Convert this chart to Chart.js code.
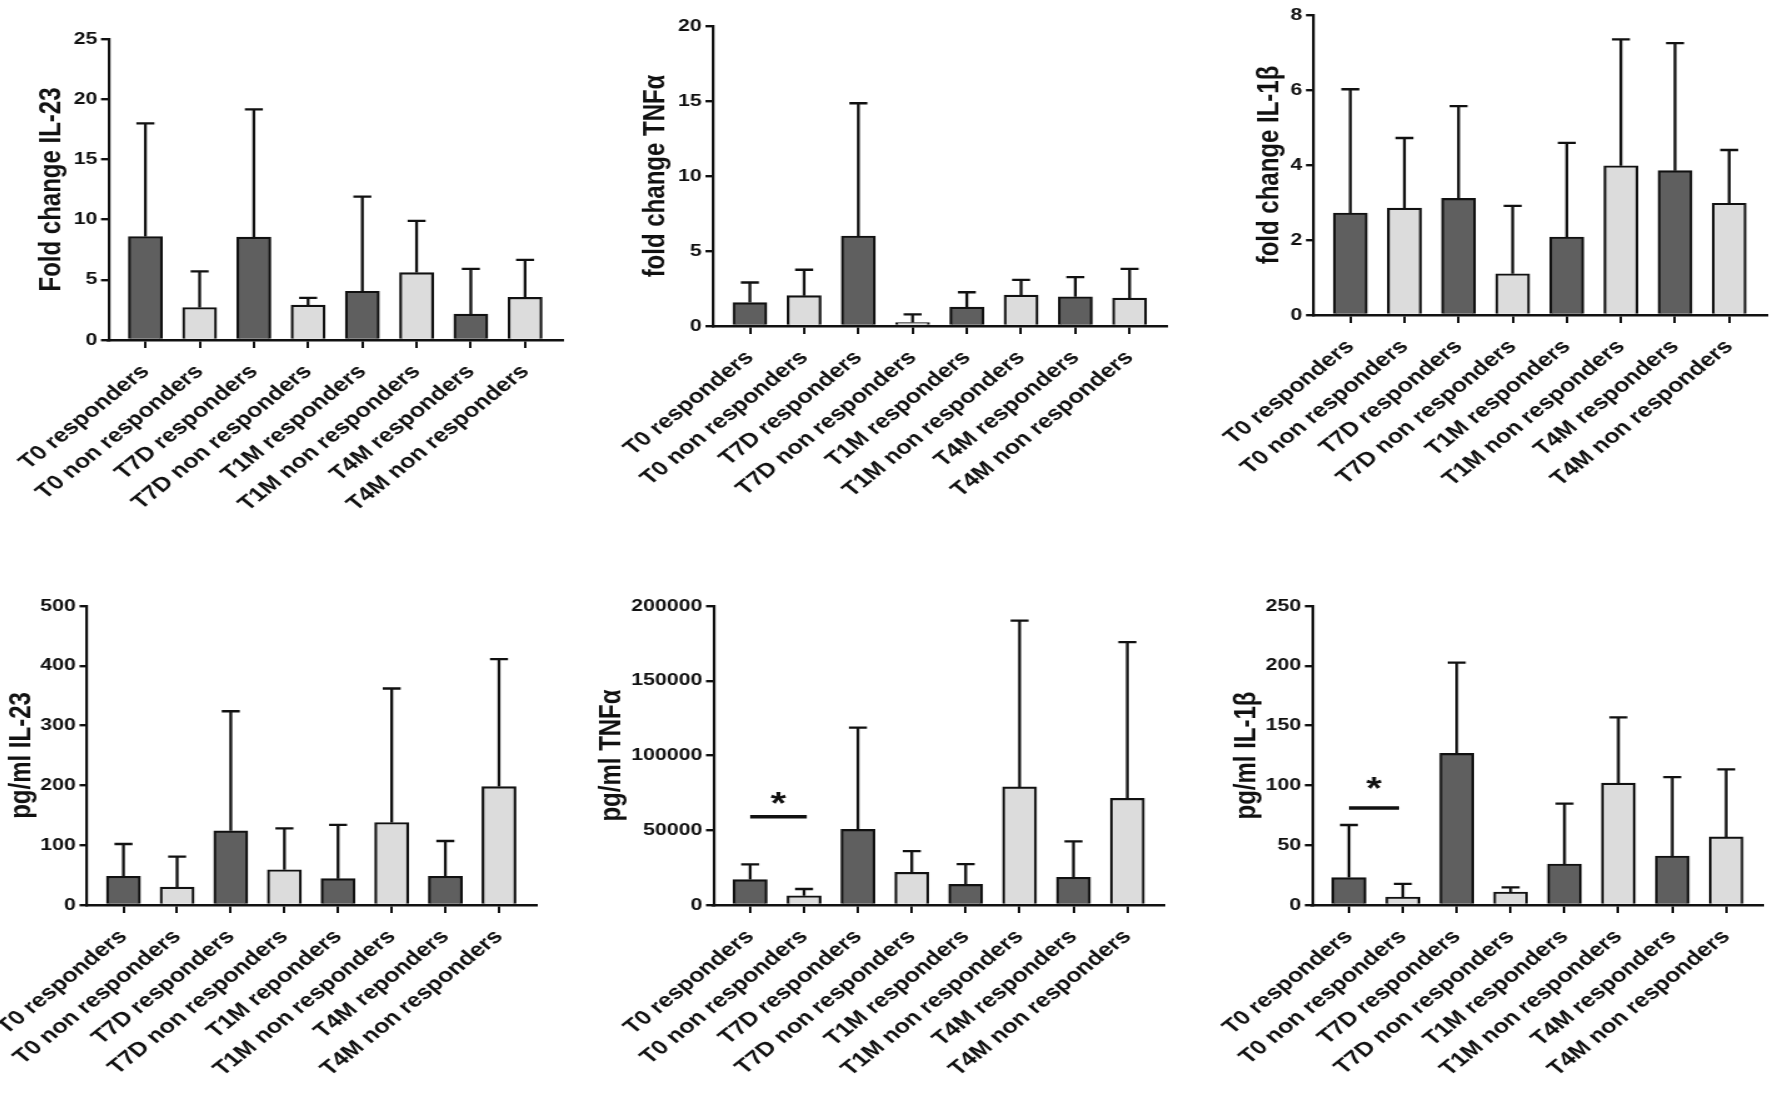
<!DOCTYPE html>
<html>
<head>
<meta charset="utf-8">
<script src="https://cdn.jsdelivr.net/npm/chart.js@4.4.1/dist/chart.umd.min.js"></script>
<style>
  html, body { margin: 0; padding: 0; background: #fff; width: 1772px; height: 1094px; overflow: hidden; }
  body { position: relative; }
  canvas { position: absolute; transform-origin: 0 0; }
</style>
</head>
<body>
<canvas id="c1"></canvas>
<canvas id="c2"></canvas>
<canvas id="c3"></canvas>
<canvas id="c4"></canvas>
<canvas id="c5"></canvas>
<canvas id="c6"></canvas>
<script>
// group labels (the pg/ml IL-23 panel spells "reponders" in the original)
const groups = ['T0 responders', 'T0 non responders', 'T7D responders', 'T7D non responders',
                'T1M responders', 'T1M non responders', 'T4M responders', 'T4M non responders'];
const groupsIl23Pg = ['T0 responders', 'T0 non responders', 'T7D responders', 'T7D non responders',
                      'T1M reponders', 'T1M non responders', 'T4M reponders', 'T4M non responders'];

// means and upper SD
const il23Fold     = [8.6, 2.7, 8.55, 2.9, 4.05, 5.6, 2.15, 3.55];
const il23FoldSd   = [9.4, 3.0, 10.6, 0.6, 7.85, 4.3, 3.75, 3.1];
const tnfFold      = [1.56, 2.02, 6.0, 0.23, 1.26, 2.06, 1.95, 1.86];
const tnfFoldSd    = [1.34, 1.73, 8.85, 0.55, 0.99, 1.01, 1.31, 1.95];
const il1bFold     = [2.72, 2.85, 3.11, 1.10, 2.08, 3.98, 3.85, 2.98];
const il1bFoldSd   = [3.30, 1.87, 2.46, 1.81, 2.51, 3.37, 3.40, 1.42];
const il23Pg       = [48, 30, 124, 59, 44, 138, 48, 198];
const il23PgSd     = [54, 51, 200, 69, 90, 224, 59, 213];
const tnfPg        = [17000, 6200, 50600, 21900, 13800, 79000, 18500, 71400];
const tnfPgSd      = [10200, 4500, 68000, 14200, 13600, 111200, 24100, 104500];
const il1bPg       = [22.9, 6.7, 126.8, 10.9, 34.3, 102, 41, 56.9];
const il1bPgSd     = [44, 10.9, 75.8, 3.9, 50.4, 54.9, 66, 56.5];

// significance between T0 responders and T0 non responders
const tnfPgSig  = { from: 0, to: 1.05, line: 59000, star: 73600 };
const il1bPgSig = { from: 0, to: 0.93, line: 81, star: 104.5 };

const dark = '#5f5f5f';
const light = '#dcdcdc';
const ink = '#111';
const family = '"Liberation Sans", Arial, sans-serif';

// the original figure is stretched horizontally; draw narrow and widen with CSS
const sx = 1.25;

const errorBars = {
  id: 'errorBars',
  afterDatasetsDraw(chart, args, opts) {
    const ctx = chart.ctx;
    const y = chart.scales.y, x = chart.scales.x;
    const data = chart.data.datasets[0].data;
    ctx.save();
    ctx.strokeStyle = ink;
    ctx.lineWidth = 2.3;
    chart.getDatasetMeta(0).data.forEach((bar, i) => {
      const v = data[i].y;
      const base = y.getPixelForValue(v);
      const top = y.getPixelForValue(v + opts.sd[i]);
      ctx.beginPath();
      ctx.moveTo(bar.x, base);
      ctx.lineTo(bar.x, top);
      ctx.moveTo(bar.x - 7.2, top);
      ctx.lineTo(bar.x + 7.2, top);
      ctx.stroke();
    });
    if (opts.sig) {
      const s = opts.sig;
      const ly = y.getPixelForValue(s.line);
      ctx.lineWidth = 3.5;
      ctx.beginPath();
      ctx.moveTo(x.getPixelForValue(s.from), ly);
      ctx.lineTo(x.getPixelForValue(s.to), ly);
      ctx.stroke();
      const size = 32;
      ctx.fillStyle = ink;
      ctx.font = 'bold ' + size + 'px ' + family;
      ctx.textAlign = 'center';
      ctx.textBaseline = 'alphabetic';
      ctx.fillText('*', x.getPixelForValue((s.from + s.to) / 2), y.getPixelForValue(s.star) + size * 0.58);
    }
    ctx.restore();
  }
};

// page positions of each plot area; gap = distance from y-axis title centre to the axis
const panels = [
  { id: 'c1', labels: groups, mean: il23Fold, sd: il23FoldSd, title: 'Fold change IL-23', max: 25, step: 5,
    left: 108, top: 39, right: 562, bottom: 340, gap: 56.5 },
  { id: 'c2', labels: groups, mean: tnfFold, sd: tnfFoldSd, title: 'fold change TNF\u03b1', max: 20, step: 5,
    left: 713, top: 26, right: 1167, bottom: 326, gap: 57 },
  { id: 'c3', labels: groups, mean: il1bFold, sd: il1bFoldSd, title: 'fold change IL-1\u03b2', max: 8, step: 2,
    left: 1313, top: 15, right: 1766, bottom: 315, gap: 43.5 },
  { id: 'c4', labels: groupsIl23Pg, mean: il23Pg, sd: il23PgSd, title: 'pg/ml IL-23', max: 500, step: 100,
    left: 87, top: 606, right: 536, bottom: 905, gap: 65 },
  { id: 'c5', labels: groups, mean: tnfPg, sd: tnfPgSd, sig: tnfPgSig, title: 'pg/ml TNF\u03b1', max: 200000, step: 50000,
    left: 713, top: 606, right: 1164, bottom: 905, gap: 101.5 },
  { id: 'c6', labels: groups, mean: il1bPg, sd: il1bPgSd, sig: il1bPgSig, title: 'pg/ml IL-1\u03b2', max: 250, step: 50,
    left: 1312, top: 606, right: 1763, bottom: 905, gap: 65.3 }
];

const padTop = 14, padRight = 10, padLeft = 40, xh = 188;
const titleSize = 24;

panels.forEach(p => {
  const yw = p.gap / sx + titleSize * 1.2 / 2;
  const plotW = (p.right - p.left) / sx;
  const pl = padLeft;
  const canvas = document.getElementById(p.id);
  const w = Math.round(pl + yw + plotW + padRight);
  const h = padTop + (p.bottom - p.top) + xh;
  canvas.width = w;
  canvas.height = h;
  canvas.style.width = w + 'px';
  canvas.style.height = h + 'px';
  canvas.style.left = (p.left - (yw + pl) * sx) + 'px';
  canvas.style.top = (p.top - padTop) + 'px';
  canvas.style.transform = 'scaleX(' + sx + ')';

  new Chart(canvas, {
    type: 'bar',
    data: {
      datasets: [{
        data: p.mean.map((v, i) => ({ x: i, y: v })),
        backgroundColor: p.mean.map((v, i) => i % 2 ? light : dark),
        borderColor: ink,
        borderWidth: 2.2,
        barThickness: 27.2
      }]
    },
    options: {
      responsive: false,
      animation: false,
      events: [],
      layout: { padding: { left: pl, top: padTop, right: w - pl - yw - plotW, bottom: 0 } },
      plugins: {
        legend: { display: false },
        tooltip: { enabled: false },
        errorBars: { sd: p.sd, sig: p.sig || null }
      },
      scales: {
        x: {
          type: 'linear',
          offset: false,
          min: -0.68,
          max: 7.69,
          afterBuildTicks: s => { s.ticks = p.labels.map((l, i) => ({ value: i })); },
          afterFit: s => { s.height = xh; s.paddingLeft = 0; s.paddingRight = 0; },
          ticks: {
            autoSkip: false,
            minRotation: 45,
            maxRotation: 45,
            padding: 12,
            color: ink,
            font: { family: family, size: 20, weight: 'bold' },
            callback: v => p.labels[v]
          },
          grid: { offset: false, drawOnChartArea: false, color: ink, lineWidth: 2, tickLength: 8 },
          border: { color: ink, width: 2.4 }
        },
        y: {
          min: 0,
          max: p.max,
          afterFit: s => { s.width = yw; s.paddingTop = 0; s.paddingBottom = 0; },
          ticks: {
            stepSize: p.step,
            padding: 3,
            color: ink,
            font: { family: family, size: 17, weight: 'bold' },
            callback: v => String(v)
          },
          grid: { drawOnChartArea: false, color: ink, lineWidth: 2.4, tickLength: 6 },
          border: { color: ink, width: 2.2 },
          title: {
            display: true,
            text: p.title,
            color: ink,
            padding: 0,
            font: { family: family, size: titleSize, weight: 'bold', lineHeight: 1.2 }
          }
        }
      }
    },
    plugins: [errorBars]
  });
});
</script>
</body>
</html>
